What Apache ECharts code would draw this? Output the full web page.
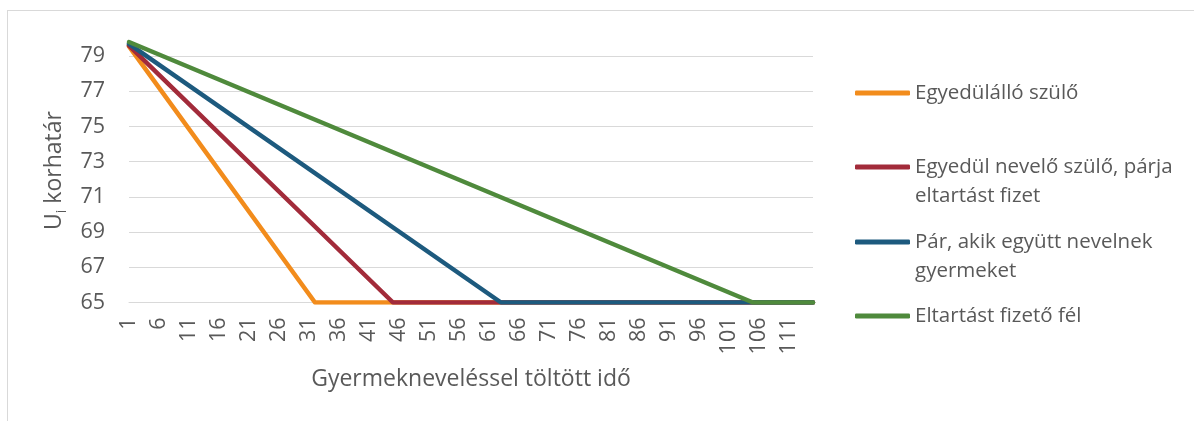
<!DOCTYPE html>
<html>
<head>
<meta charset="utf-8">
<script src="https://cdn.jsdelivr.net/npm/echarts@6/dist/echarts.min.js"></script>
<style>
  html, body { margin: 0; padding: 0; background: #ffffff; }
  #frame { position: absolute; left: 7px; top: 10px; width: 1186px; height: 411px;
           border-left: 1px solid #d9d9d9; border-top: 1px solid #d9d9d9; }
  #chart { position: absolute; left: 0; top: 0; width: 1194px; height: 421px; }
</style>
</head>
<body>
<div id="frame"></div>
<div id="chart"></div>
<script>
// Category labels of the x axis (years spent raising children)
const categories = ['1','2','3','4','5','6','7','8','9','10','11','12','13','14','15','16','17','18','19','20',
  '21','22','23','24','25','26','27','28','29','30','31','32','33','34','35','36','37','38','39','40',
  '41','42','43','44','45','46','47','48','49','50','51','52','53','54','55','56','57','58','59','60',
  '61','62','63','64','65','66','67','68','69','70','71','72','73','74','75','76','77','78','79','80',
  '81','82','83','84','85','86','87','88','89','90','91','92','93','94','95','96','97','98','99','100',
  '101','102','103','104','105','106','107','108','109','110','111','112','113','114','115'];

// Series names
const seriesNames = ['Egyedülálló szülő', 'Egyedül nevelő szülő, párja eltartást fizet',
  'Pár, akik együtt nevelnek gyermeket', 'Eltartást fizető fél'];
// Legend labels (wrapped as in the reference)
const legendLabels = ['Egyedülálló szülő', 'Egyedül nevelő szülő, párja\neltartást fizet',
  'Pár, akik együtt nevelnek\ngyermeket', 'Eltartást fizető fél'];

// Breakpoints of each series: [category, retirement age]
const singleParent  = [['1', 79.55], ['32', 65], ['115', 65]];
const soloRaising   = [['1', 79.6],  ['45', 65], ['115', 65]];
const couple        = [['1', 79.7],  ['63', 65], ['115', 65]];
const payingParty   = [['1', 79.8],  ['105', 65], ['115', 65]];

const yTicks = [65, 67, 69, 71, 73, 75, 77, 79];

const colors = ['#F28C1C', '#A22B3A', '#1D5A7E', '#4F8A3C'];
const seriesData = [singleParent, soloRaising, couple, payingParty];

const chart = echarts.init(document.getElementById('chart'), null, { renderer: 'canvas' });
const FONT = 'Open Sans';
const LH = 29.5;
const iconCenters = [93, 167, 242, 316];
const twoLine = [false, true, true, false];

const option = {
  animation: false,
  backgroundColor: 'transparent',
  grid: { left: 129, right: 381, top: 38.5, bottom: 118.5, containLabel: false },
  xAxis: {
    type: 'category',
    data: categories,
    boundaryGap: false,
    axisLine: { show: true, lineStyle: { color: '#d9d9d9', width: 1 } },
    axisTick: { show: false },
    axisLabel: { interval: 4, rotate: 90, margin: 15, color: '#595959', fontSize: 21.5, fontFamily: FONT },
    splitLine: { show: false },
    name: 'Gyermekneveléssel töltött idő',
    nameLocation: 'middle',
    nameGap: 65,
    nameTextStyle: { color: '#595959', fontSize: 23, fontFamily: FONT }
  },
  yAxis: {
    type: 'value',
    min: 65,
    max: 80,
    interval: 2,
    axisLine: { show: false },
    axisTick: { show: false },
    axisLabel: {
      margin: 24, color: '#595959', fontSize: 21.5, fontFamily: FONT,
      showMaxLabel: false,
      formatter: v => (yTicks.indexOf(v) >= 0 ? String(v) : '')
    },
    splitLine: { show: true, showMaxLine: false, showMinLine: false, lineStyle: { color: '#d9d9d9', width: 1 } },
    name: '{u|U}{s|i}{u| korhatár}',
    nameLocation: 'middle',
    nameRotate: 90,
    nameGap: 51,
    nameTextStyle: {
      color: '#595959', fontFamily: FONT,
      rich: {
        u: { fontSize: 23, color: '#595959', fontFamily: FONT, lineHeight: 30 },
        s: { fontSize: 14, color: '#595959', fontFamily: FONT, lineHeight: 30, verticalAlign: 'bottom', padding: [13, 0, 0, 0] }
      }
    }
  },
  legend: seriesNames.map((n, i) => ({
    data: [n],
    orient: 'vertical',
    left: 855,
    top: iconCenters[i] - (twoLine[i] ? 1.5 * LH : 0.5 * LH),
    padding: 0,
    icon: 'roundRect',
    itemWidth: 55,
    itemHeight: 5,
    formatter: () => (twoLine[i] ? '\n' : '') + legendLabels[i],
    textStyle: { color: '#595959', fontSize: 20.5, fontFamily: FONT, lineHeight: LH },
    selectedMode: false
  })),
  series: seriesNames.map((n, i) => ({
    name: n,
    type: 'line',
    data: seriesData[i],
    symbol: 'none',
    showSymbol: false,
    color: colors[i],
    itemStyle: { color: colors[i] },
    lineStyle: { width: 4.5, color: colors[i], cap: 'round', join: 'round' },
    emphasis: { disabled: true }
  }))
};
chart.setOption(option);
</script>
</body>
</html>
